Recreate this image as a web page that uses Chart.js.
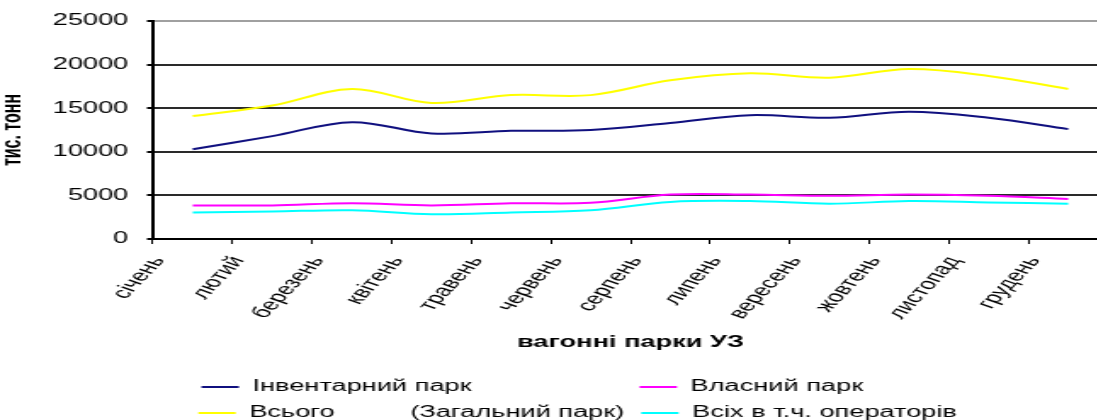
<!DOCTYPE html>
<html lang="uk">
<head>
<meta charset="utf-8">
<title>Вагонні парки УЗ</title>
<script src="https://cdn.jsdelivr.net/npm/chart.js@4/dist/chart.umd.min.js"></script>
<style>
  html, body { margin: 0; padding: 0; background: #fff; }
  #frame { width: 1097px; height: 420px; overflow: hidden; position: relative; }
  #chart { display: block; }
</style>
</head>
<body>
<!-- the chart is laid out on a narrow canvas and widened with CSS,
     which gives the broad, stretched lettering of the original sheet -->
<div id="frame"><canvas id="chart" width="652" height="431" style="width:1108.4px;height:431px"></canvas></div>
<script>
// months as they appear on the category axis
const months = ['січень', 'лютий', 'березень', 'квітень', 'травень', 'червень',
                'серпень', 'липень', 'вересень', 'жовтень', 'листопад', 'грудень'];

// thousand tonnes per month
const inventoryPark = [10300, 11800, 13400, 12100, 12400, 12500, 13300, 14200, 13900, 14600, 13900, 12600];
const ownPark       = [3850, 3850, 4100, 3850, 4100, 4150, 5100, 5100, 4950, 5100, 4950, 4600];
const totalPark     = [14100, 15300, 17200, 15600, 16500, 16500, 18200, 19000, 18500, 19500, 18700, 17200];
const operatorsPark = [3050, 3150, 3300, 2850, 3050, 3300, 4250, 4350, 4050, 4350, 4200, 4050];

// value axis
const yMin = 0;
const yMax = 25000;
const yStep = 5000;

const seriesNames = ['Інвентарний парк', 'Власний парк',
                     'Всього          (Загальний парк)', 'Всіх в т.ч. операторів'];
const seriesColors = ['#10107f', '#ff00ff', '#ffff00', '#00ffff'];
const seriesValues = [inventoryPark, ownPark, totalPark, operatorsPark];

const FONT = '"Liberation Sans", Arial, sans-serif';
const STRETCH = 1.7;                 // CSS widening factor of the canvas
const labelAngle = Math.atan(STRETCH) * 180 / Math.PI;   // reads as 45° once widened

// legend columns: pad each label to a common width so the two rows line up
const legendColWidths = [219.5, 217.7];
function padLabel(ctx, text, width) {
  ctx.save();
  ctx.font = '16px ' + FONT;
  let out = text;
  while (ctx.measureText(out + ' ').width <= width + 2) out += ' ';
  ctx.restore();
  return out;
}

const ctx = document.getElementById('chart').getContext('2d');

new Chart(ctx, {
  type: 'line',
  data: {
    labels: months,
    datasets: seriesValues.map((values, i) => ({
      label: seriesNames[i],
      data: values,
      borderColor: seriesColors[i],
      backgroundColor: seriesColors[i],
      borderWidth: 2,
      pointRadius: 0,
      pointHoverRadius: 0,
      tension: 0.35,
      fill: false
    }))
  },
  options: {
    responsive: false,
    animation: false,
    devicePixelRatio: 1,
    layout: { padding: { top: 21, left: 0, right: 0, bottom: 0 } },
    plugins: {
      tooltip: { enabled: false },
      legend: {
        position: 'bottom',
        align: 'center',
        fullSize: false,
        labels: {
          font: { family: FONT, size: 16 },
          color: '#000',
          usePointStyle: true,
          pointStyle: 'line',
          pointStyleWidth: 22,
          padding: 10,
          generateLabels(chart) {
            const items = Chart.defaults.plugins.legend.labels.generateLabels(chart);
            items.forEach((item, i) => {
              item.text = padLabel(chart.ctx, item.text, legendColWidths[i % 2]);
              item.lineWidth = 2;
              item.pointStyle = 'line';
            });
            return items;
          }
        }
      }
    },
    scales: {
      x: {
        offset: true,
        grid: {
          display: true,
          offset: true,
          drawOnChartArea: false,
          drawTicks: true,
          tickLength: 5,
          color: '#000',
          lineWidth: 1
        },
        border: { display: true, color: '#000', width: 2 },
        ticks: {
          autoSkip: false,
          minRotation: labelAngle,
          maxRotation: labelAngle,
          labelOffset: -20,
          padding: 9,
          color: '#000',
          font: { family: FONT, size: 16 }
        },
        title: {
          display: true,
          text: 'вагонні парки УЗ',
          color: '#000',
          font: { family: FONT, size: 16, weight: 'bold' },
          padding: { top: 4, bottom: 17 }
        },
        afterFit(scale) {
          scale.height = 130;
          scale.paddingLeft = 0;
          scale.paddingRight = 0;
        }
      },
      y: {
        min: yMin,
        max: yMax,
        ticks: {
          stepSize: yStep,
          padding: 11,
          color: '#000',
          font: { family: FONT, size: 16 },
          callback: v => String(v)
        },
        grid: {
          color: c => (c.tick && c.tick.value === yMax) ? '#a0a0a0' : '#2a2a2a',
          lineWidth: 2,
          drawTicks: true,
          tickLength: 3.5,
          tickColor: '#000',
          tickWidth: 2
        },
        border: { display: true, color: '#000', width: 2 },
        title: {
          display: true,
          text: 'тис. тонн',
          color: '#000',
          font: { family: FONT, size: 16, weight: 'bold', lineHeight: 1 },
          padding: { top: 0, bottom: 0 }
        },
        afterFit(scale) {
          scale.width = 90;
        }
      }
    }
  }
});
</script>
</body>
</html>
